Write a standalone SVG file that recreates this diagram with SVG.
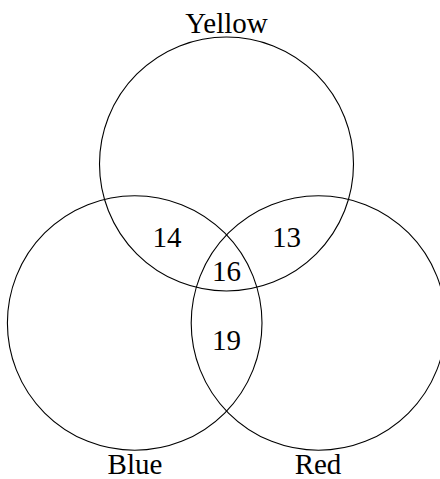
<svg xmlns="http://www.w3.org/2000/svg" width="440" height="479" viewBox="0 0 440 479">
<style>
.c{fill:none;stroke:#000;stroke-width:1.1}
.t{font-family:"Liberation Serif","DejaVu Serif",serif;font-size:29px;fill:#000;text-anchor:middle}
</style>
<rect width="440" height="479" fill="#fff"/>
<g id="yellow"><circle class="c" cx="226.5" cy="164" r="127"/><text class="t" x="226.5" y="33">Yellow</text></g>
<g id="blue"><circle class="c" cx="134.7" cy="323" r="127.3"/><text class="t" x="135" y="474">Blue</text></g>
<g id="red"><circle class="c" cx="318.5" cy="323" r="127.3"/><text class="t" x="318" y="474">Red</text></g>
<g id="labels">
<text class="t" x="167" y="247">14</text>
<text class="t" x="286.5" y="247">13</text>
<text class="t" x="226.5" y="281">16</text>
<text class="t" x="226.5" y="350">19</text>
</g>
</svg>
